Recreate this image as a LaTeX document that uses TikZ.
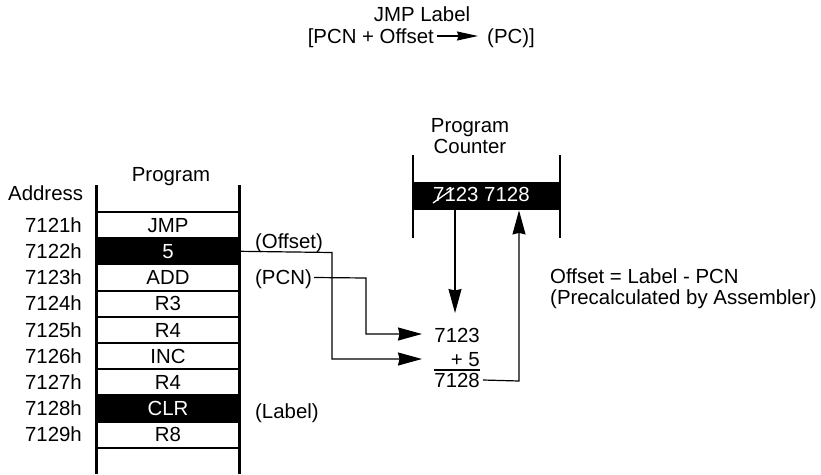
\documentclass[tikz,border=0pt]{standalone}
\usepackage{fontspec}
\setmainfont{Liberation Sans}
\usetikzlibrary{arrows.meta}
\begin{document}
\begin{tikzpicture}[x=1pt,y=-1pt,
  every node/.style={font=\fontsize{20.4}{22}\selectfont, inner sep=0pt, text height=14.5pt, text depth=0pt},
  rail/.style={line width=2.4pt},
  cell/.style={draw, line width=1.9pt, minimum width=143pt, minimum height=26.2pt},
  hot/.style={cell, fill=black, text=white},
  conn/.style={line width=1.2pt},
  tip/.style={conn, -{Stealth[length=24pt,width=13pt,inset=1.5pt]}},
  smalltip/.style={conn, -{Stealth[length=21pt,width=9pt,inset=1.5pt]}}
]
\useasboundingbox (0,0) rectangle (821,474);

% title
\node (t0) at (422,14) {JMP Label};
\node[anchor=east] (t1) at (434,36) {[PCN + Offset};
\node[anchor=west] (t2) at (487,36) {(PC)]};
\coordinate (tb) at (478,36);
\draw[smalltip] ([xshift=3pt]t1.east) -- (tb);

% program column
\node (prog) at (171,174.5) {Program};
\node[anchor=west] (addr) at (8,193) {Address};
\draw[rail] (96.5,185) -- (96.5,474);
\draw[rail] (239.5,185) -- (239.5,474);

\foreach \i/\a/\c/\s in {1/7121h/JMP/cell,2/7122h/5/hot,3/7123h/ADD/cell,4/7124h/R3/cell,
  5/7125h/R4/cell,6/7126h/INC/cell,7/7127h/R4/cell,8/7128h/CLR/hot,9/7129h/R8/cell}{
  \node[\s] (r\i) at (168,212+26.2*\i-13.1) {\c};
  \node[anchor=east] (a\i) at (82,212+26.2*\i-13.1) {\a};
}

% labels
\node[anchor=west] (loff) at (255,241) {(Offset)};
\node[anchor=west] (lpcn) at (255,277.5) {(PCN)};
\node[anchor=west] (llab) at (255,411) {(Label)};

% program counter
\node (pch1) at (470,125) {Program};
\node (pch2) at (470,146.5) {Counter};
\draw[rail] (413,155) -- (413,238);
\draw[rail] (560,155) -- (560,238);
\node[fill=black, minimum width=147pt, minimum height=28pt, anchor=north west] (pc) at (413,182) {};
\node[anchor=west, text=white] (pct) at (433,194) {7123 7128};
\draw[white, line width=1.3pt] (433,203) -- (454,188);

% arithmetic
\node[anchor=east] (n1) at (480,335.5) {7123};
\node[anchor=east] (n2) at (480,359.5) {+ 5};
\node[anchor=east] (n3) at (480,380) {7128};
\draw[conn] (434,370) -- (480,370);

\coordinate (inA) at (422,334);
\coordinate (inB) at (422,359);
\coordinate (dn) at (455,313);
\coordinate (up) at (519,381);

% connectors
\draw[tip] (pc.south -| dn) -- (dn);
\draw[tip] ([xshift=3pt]n3.east) -- (up) -- (pc.south -| up);
\draw[tip] (r2.east) -- (332,252.5) -- (332,359) -- (inB);
\draw[tip] ([xshift=2pt]lpcn.east) -- (366,278) -- (366,334) -- (inA);

% note
\node[anchor=west] (note1) at (550,276) {Offset = Label - PCN};
\node[anchor=west] (note2) at (550,297) {(Precalculated by Assembler)};
\end{tikzpicture}
\end{document}
